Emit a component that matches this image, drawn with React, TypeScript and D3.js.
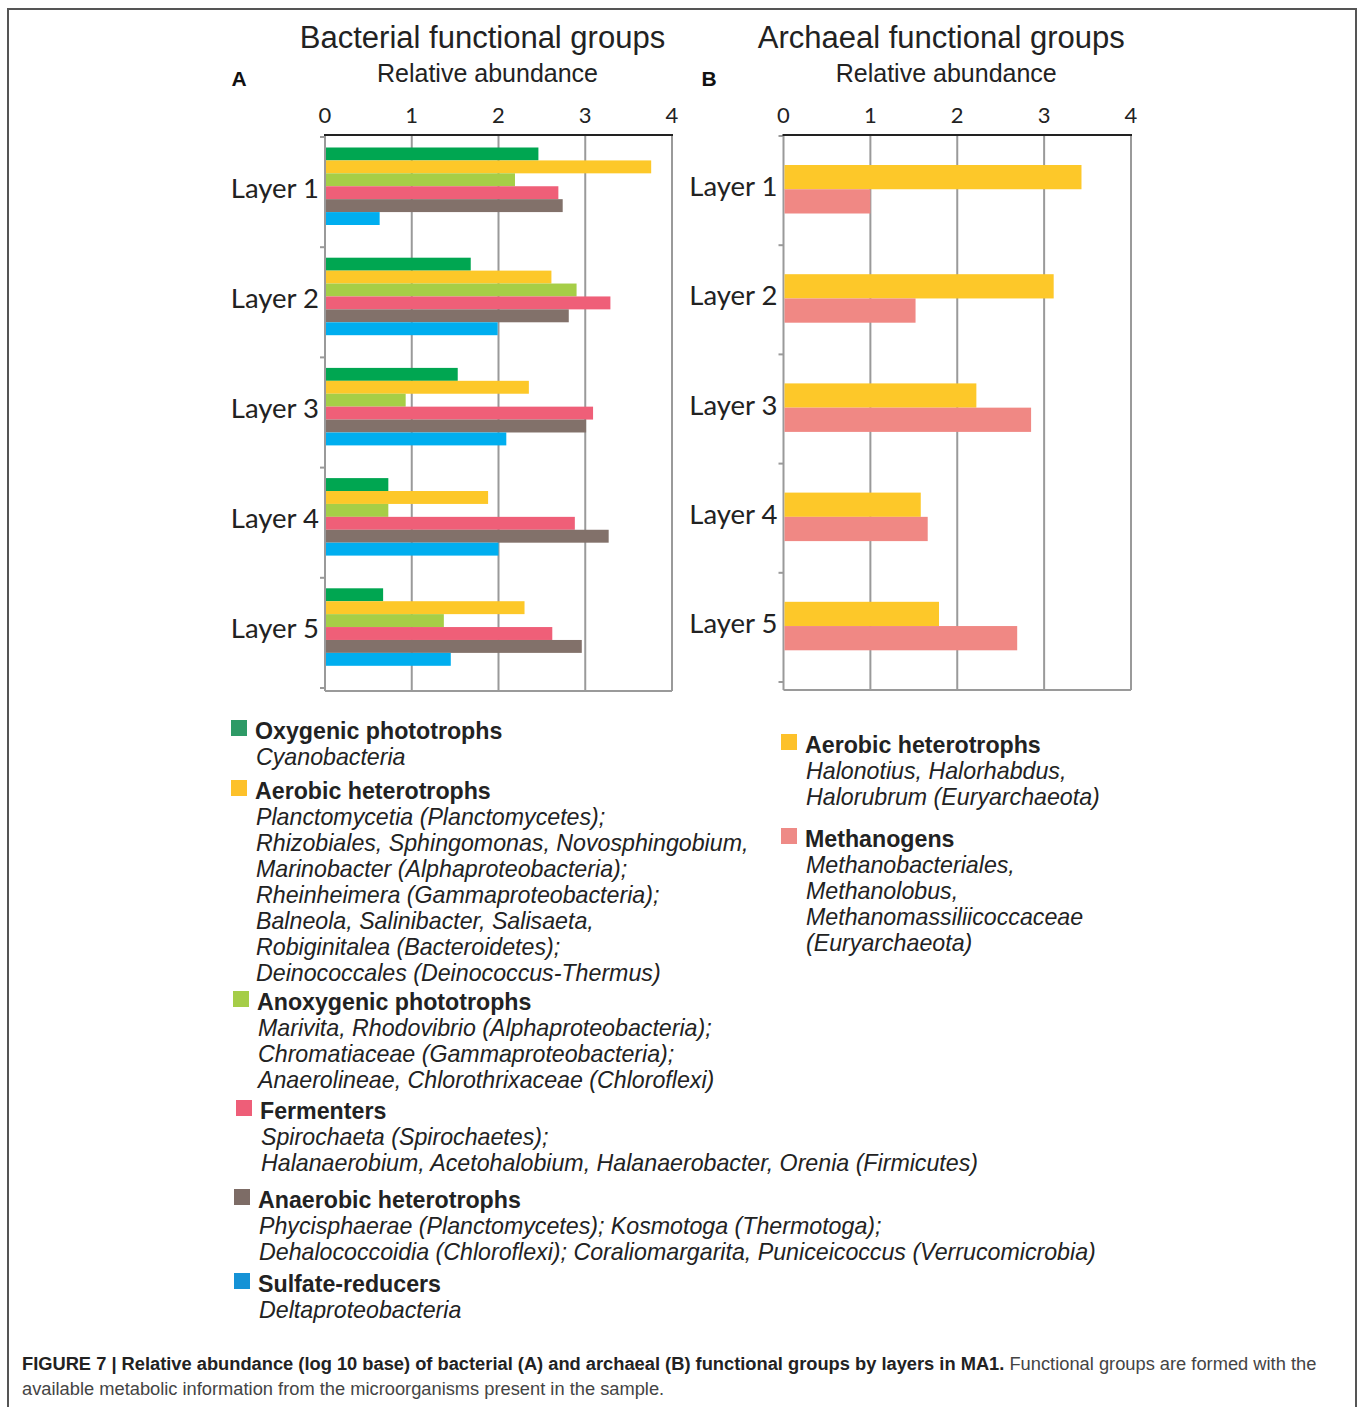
import * as d3 from "d3";

const LAYERS = ["Layer 1", "Layer 2", "Layer 3", "Layer 4", "Layer 5"];
const TICKS = [0, 1, 2, 3, 4];

// bacterial groups, values per layer (log10 relative abundance)
const BAC_GROUPS = ["Oxygenic", "Aerobic", "Anoxygenic", "Fermenters", "Anaerobic", "Sulfate"];
const BAC_COLORS = ["#00a651", "#fdc829", "#a6ce47", "#ef5f78", "#82716a", "#00aeef"];
const OXYGENIC = [2.46, 1.68, 1.53, 0.73, 0.67];
const AEROBIC = [3.76, 2.61, 2.35, 1.88, 2.3];
const ANOXYGENIC = [2.19, 2.9, 0.93, 0.73, 1.37];
const FERMENTERS = [2.69, 3.29, 3.09, 2.88, 2.62];
const ANAEROBIC = [2.74, 2.81, 3.01, 3.27, 2.96];
const SULFATE = [0.63, 1.99, 2.09, 2.0, 1.45];

// archaeal groups
const ARC_GROUPS = ["Aerobic", "Methanogens"];
const ARC_COLORS = ["#fdc829", "#f08884"];
const ARC_AEROBIC = [3.43, 3.11, 2.22, 1.58, 1.79];
const METHANOGENS = [1.0, 1.52, 2.85, 1.66, 2.69];

const BAC_LEGEND = [
  { color: "#2e9a66", title: "Oxygenic phototrophs", lines: ["Cyanobacteria"], x: 231, y: 731 },
  {
    color: "#fdc12a",
    title: "Aerobic heterotrophs",
    lines: [
      "Planctomycetia (Planctomycetes);",
      "Rhizobiales, Sphingomonas, Novosphingobium,",
      "Marinobacter (Alphaproteobacteria);",
      "Rheinheimera (Gammaproteobacteria);",
      "Balneola, Salinibacter, Salisaeta,",
      "Robiginitalea (Bacteroidetes);",
      "Deinococcales (Deinococcus-Thermus)",
    ],
    x: 231,
    y: 791,
  },
  {
    color: "#a5cd48",
    title: "Anoxygenic phototrophs",
    lines: [
      "Marivita, Rhodovibrio (Alphaproteobacteria);",
      "Chromatiaceae (Gammaproteobacteria);",
      "Anaerolineae, Chlorothrixaceae (Chloroflexi)",
    ],
    x: 233,
    y: 1002,
  },
  {
    color: "#ee5e78",
    title: "Fermenters",
    lines: [
      "Spirochaeta (Spirochaetes);",
      "Halanaerobium, Acetohalobium, Halanaerobacter, Orenia (Firmicutes)",
    ],
    x: 236,
    y: 1111,
  },
  {
    color: "#7d6c66",
    title: "Anaerobic heterotrophs",
    lines: [
      "Phycisphaerae (Planctomycetes); Kosmotoga (Thermotoga);",
      "Dehalococcoidia (Chloroflexi); Coraliomargarita, Puniceicoccus (Verrucomicrobia)",
    ],
    x: 234,
    y: 1200,
  },
  { color: "#1592d6", title: "Sulfate-reducers", lines: ["Deltaproteobacteria"], x: 234, y: 1284 },
];

const ARC_LEGEND = [
  {
    color: "#fdc12a",
    title: "Aerobic heterotrophs",
    lines: ["Halonotius, Halorhabdus,", "Halorubrum (Euryarchaeota)"],
    x: 781,
    y: 745,
  },
  {
    color: "#ee8a86",
    title: "Methanogens",
    lines: ["Methanobacteriales,", "Methanolobus,", "Methanomassiliicoccaceae", "(Euryarchaeota)"],
    x: 781,
    y: 839,
  },
];

const NARROW = "'Liberation Sans Narrow', 'Arial Narrow', 'Liberation Sans', sans-serif";
const HUMANIST = "Lato, 'Open Sans', sans-serif";
const LEGEND_FONT = "'Liberation Sans', Arial, sans-serif";

type PanelProps = {
  x0: number;
  x1: number;
  top: number;
  bandTop: number;
  bandBottom: number;
  bottom: number;
  inner: [number, number];
  groups: string[];
  colors: string[];
  series: number[][];
  title: string;
  letter: string;
  letterX: number;
};

function Panel(p: PanelProps) {
  const x = d3.scaleLinear().domain([0, 4]).range([p.x0, p.x1]);
  const y = d3.scaleBand<string>().domain(LAYERS).range([p.bandTop, p.bandBottom]);
  const yi = d3.scaleBand<string>().domain(p.groups).range(p.inner);
  const cx = (p.x0 + p.x1) / 2;

  return (
    <g>
      <text x={cx - 16} y={48} textAnchor="middle" fontFamily={NARROW} fontSize={31} fill="#222">
        {p.title}
      </text>
      <text x={cx - 11} y={82} textAnchor="middle" fontFamily={NARROW} fontSize={25} fill="#222">
        Relative abundance
      </text>
      <text x={p.letterX} y={86} textAnchor="middle" fontFamily={NARROW} fontSize={21} fontWeight="bold" fill="#111">
        {p.letter}
      </text>

      {TICKS.slice(1).map((t) => (
        <line key={t} x1={x(t)} x2={x(t)} y1={p.top} y2={p.bottom} stroke="#9a9a9a" strokeWidth={2} />
      ))}
      <line x1={p.x0} x2={p.x0} y1={p.top} y2={p.bottom} stroke="#9a9a9a" strokeWidth={2} />
      <line x1={p.x0} x2={p.x1} y1={p.bottom} y2={p.bottom} stroke="#9a9a9a" strokeWidth={2} />
      {LAYERS.map((l) => (
        <line key={l} x1={p.x0 - 5} x2={p.x0} y1={y(l)!} y2={y(l)!} stroke="#9a9a9a" strokeWidth={2} />
      ))}
      <line x1={p.x0 - 5} x2={p.x0} y1={p.bandBottom} y2={p.bandBottom} stroke="#9a9a9a" strokeWidth={2} />

      {LAYERS.map((l, li) =>
        p.groups.map((g, gi) => (
          <rect
            key={l + g}
            x={x(0) + 1}
            y={y(l)! + yi(g)!}
            width={x(p.series[gi][li]) - x(0) - 1}
            height={yi.bandwidth()}
            fill={p.colors[gi]}
          />
        ))
      )}

      <line x1={p.x0 - 1} x2={p.x1 + 1} y1={p.top} y2={p.top} stroke="#222" strokeWidth={2} />
      {TICKS.map((t) => (
        <text key={t} x={x(t)} y={123} textAnchor="middle" fontFamily={HUMANIST} fontSize={22} fill="#222">
          {t}
        </text>
      ))}
      {LAYERS.map((l) => (
        <text
          key={l}
          x={p.x0 - 6}
          y={y(l)! + y.bandwidth() / 2 - 5}
          textAnchor="end"
          dominantBaseline="central"
          fontFamily={HUMANIST}
          fontSize={27.5}
          fill="#222"
        >
          {l}
        </text>
      ))}
    </g>
  );
}

type LegendItem = { color: string; title: string; lines: string[]; x: number; y: number };

function Legend({ items }: { items: LegendItem[] }) {
  return (
    <g fontFamily={LEGEND_FONT} fill="#222">
      {items.map((it) => (
        <g key={it.title + it.y}>
          <rect x={it.x} y={it.y - 11} width={16} height={16} fill={it.color} />
          <text x={it.x + 24} y={it.y + 8} fontSize={23.2} fontWeight="bold">
            {it.title}
          </text>
          {it.lines.map((ln, i) => (
            <text key={i} x={it.x + 25} y={it.y + 34 + i * 26} fontSize={23.2} fontStyle="italic">
              {ln}
            </text>
          ))}
        </g>
      ))}
    </g>
  );
}

export default function App() {
  return (
    <svg
      width={1358}
      height={1407}
      style={{ position: "absolute", left: 0, top: 0, background: "#fff" }}
    >
      <rect x={0} y={0} width={1358} height={1407} fill="#fff" />
      <path d="M8,1407 V9 H1356 V1407" fill="none" stroke="#555" strokeWidth={2} />

      <Panel
        x0={325}
        x1={672}
        top={135}
        bandTop={137}
        bandBottom={688}
        bottom={691}
        inner={[10.5, 88]}
        groups={BAC_GROUPS}
        colors={BAC_COLORS}
        series={[OXYGENIC, AEROBIC, ANOXYGENIC, FERMENTERS, ANAEROBIC, SULFATE]}
        title="Bacterial functional groups"
        letter="A"
        letterX={239}
      />
      <Panel
        x0={783.5}
        x1={1131}
        top={135}
        bandTop={136}
        bandBottom={682}
        bottom={690}
        inner={[29, 77.5]}
        groups={ARC_GROUPS}
        colors={ARC_COLORS}
        series={[ARC_AEROBIC, METHANOGENS]}
        title="Archaeal functional groups"
        letter="B"
        letterX={709}
      />

      <Legend items={BAC_LEGEND} />
      <Legend items={ARC_LEGEND} />

      <g fontFamily="'Liberation Sans', Arial, sans-serif" fontSize={18.3} fill="#222">
        <text x={22} y={1370}>
          <tspan fontWeight="bold">
            FIGURE 7 | Relative abundance (log 10 base) of bacterial (A) and archaeal (B) functional groups by layers in MA1.
          </tspan>
          <tspan fill="#444"> Functional groups are formed with the</tspan>
        </text>
        <text x={22} y={1395} fill="#444">
          available metabolic information from the microorganisms present in the sample.
        </text>
      </g>
    </svg>
  );
}
